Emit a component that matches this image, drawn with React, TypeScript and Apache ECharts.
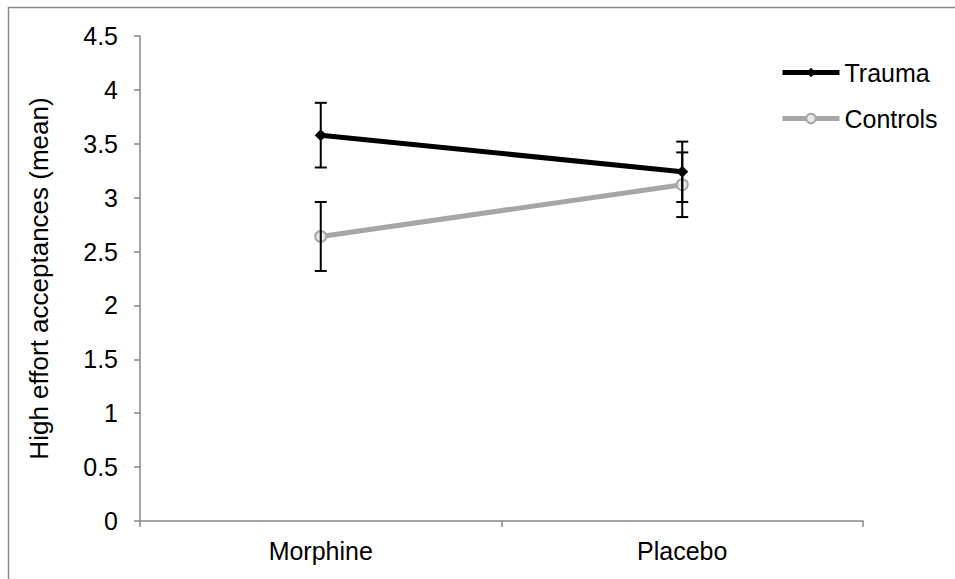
import React, { useEffect, useRef } from "react";
import * as echarts from "echarts";

const categories = ["Morphine", "Placebo"];
const traumaMean = [3.58, 3.24];
const traumaSE = [0.3, 0.28];
const controlsMean = [2.64, 3.12];
const controlsSE = [0.32, 0.3];
const yTicks = { min: 0, max: 4.5, interval: 0.5 };

const FONT = "'Liberation Sans', Arial, sans-serif";

function errData(means: number[], se: number[]) {
  return means.map((m, i) => [i, m - se[i], m + se[i]]);
}

const errRender = (params: any, api: any) => {
  const x = api.value(0);
  const lo = api.coord([x, api.value(1)]);
  const hi = api.coord([x, api.value(2)]);
  const half = 6;
  const style = { stroke: "#000", lineWidth: 2 };
  return {
    type: "group",
    children: [
      { type: "line", shape: { x1: lo[0], y1: lo[1], x2: hi[0], y2: hi[1] }, style },
      { type: "line", shape: { x1: lo[0] - half, y1: lo[1], x2: lo[0] + half, y2: lo[1] }, style },
      { type: "line", shape: { x1: hi[0] - half, y1: hi[1], x2: hi[0] + half, y2: hi[1] }, style },
    ],
  };
};

export default function App() {
  const ref = useRef<HTMLDivElement>(null);
  useEffect(() => {
    if (!ref.current) return;
    const chart = echarts.init(ref.current, null, { renderer: "svg" });
    chart.setOption({
      animation: false,
      backgroundColor: "#fff",
      textStyle: { fontFamily: FONT },
      graphic: [
        {
          type: "rect",
          shape: { x: 8.5, y: 7.5, width: 2000, height: 2000 },
          style: { fill: "none", stroke: "#8a8a8a", lineWidth: 1.5 },
          silent: true,
        },
      ],
      grid: { left: 140, top: 36, right: 92, bottom: 58 },
      legend: {
        orient: "vertical",
        left: 780,
        top: 60,
        padding: 0,
        itemWidth: 57,
        itemHeight: 12,
        itemGap: 21,
        lineStyle: { width: 5 },
        textStyle: { fontSize: 25, color: "#000", fontFamily: FONT },
        data: [
          { name: "Trauma", lineStyle: { width: 5, color: "#000" } },
          { name: "Controls", lineStyle: { width: 5, color: "#a6a6a6" } },
        ],
      },
      xAxis: {
        type: "category",
        data: categories,
        boundaryGap: true,
        axisLine: { lineStyle: { color: "#868686", width: 1.5 } },
        axisTick: { show: true, length: 6, lineStyle: { color: "#868686", width: 1.5 } },
        axisLabel: { fontSize: 25, color: "#000", margin: 17, fontFamily: FONT },
        splitLine: { show: false },
      },
      yAxis: {
        type: "value",
        min: yTicks.min,
        max: yTicks.max,
        interval: yTicks.interval,
        name: "High effort acceptances (mean)",
        nameLocation: "middle",
        nameGap: 88,
        nameTextStyle: { fontSize: 26, color: "#000", fontFamily: FONT },
        axisLine: { show: true, lineStyle: { color: "#868686", width: 1.5 } },
        axisTick: { show: true, length: 6, lineStyle: { color: "#868686", width: 1.5 } },
        axisLabel: { fontSize: 25, color: "#000", margin: 22, fontFamily: FONT },
        splitLine: { show: false },
      },
      series: [
        {
          name: "Trauma",
          type: "line",
          data: traumaMean,
          symbol: "diamond",
          symbolSize: 12,
          lineStyle: { color: "#000", width: 5 },
          itemStyle: { color: "#000" },
          z: 3,
        },
        {
          name: "Controls",
          type: "line",
          data: controlsMean,
          symbol: "circle",
          symbolSize: 11,
          showSymbol: true,
          lineStyle: { color: "#a6a6a6", width: 5 },
          itemStyle: { color: "#e8e8e8", borderColor: "#a6a6a6", borderWidth: 2 },
          z: 2,
        },
        {
          name: "TraumaErr",
          type: "custom",
          data: errData(traumaMean, traumaSE),
          renderItem: errRender,
          z: 5,
          silent: true,
        },
        {
          name: "ControlsErr",
          type: "custom",
          data: errData(controlsMean, controlsSE),
          renderItem: errRender,
          z: 5,
          silent: true,
        },
      ],
    });
    return () => chart.dispose();
  }, []);
  return (
    <div
      ref={ref}
      style={{ position: "fixed", left: 0, top: 0, width: 955, height: 579 }}
    />
  );
}
